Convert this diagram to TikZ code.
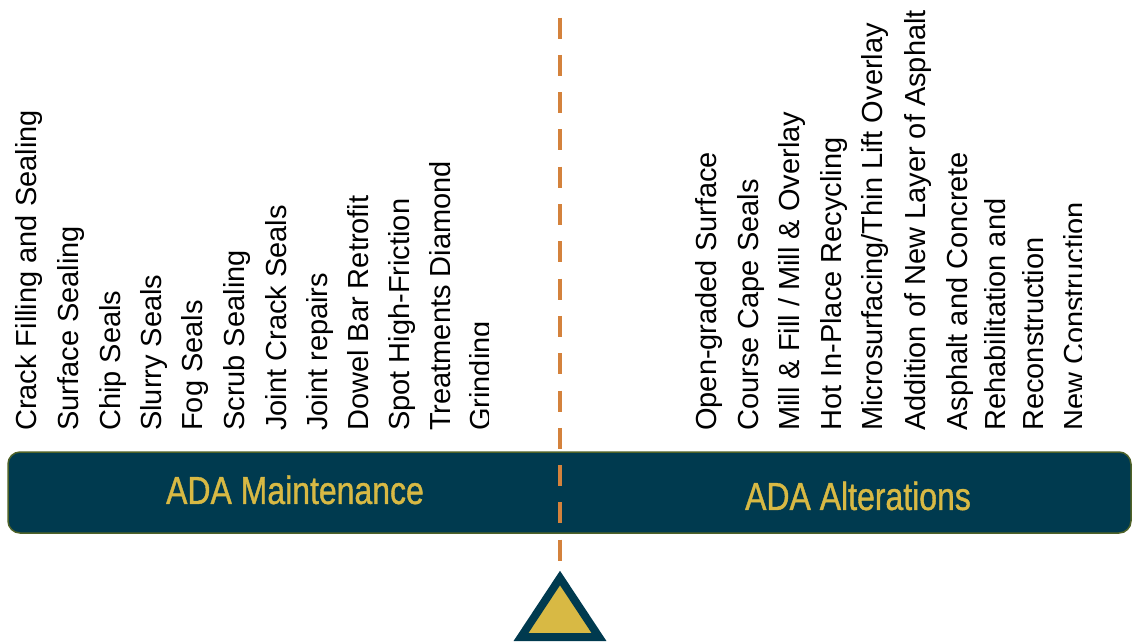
\documentclass[tikz,border=0pt]{standalone}
\usepackage{fontspec}
\setmainfont{Liberation Sans}
\newfontfamily\narrowfont[FakeStretch=0.82,FakeBold=1]{Liberation Sans}
\usepackage{tikz}
\usetikzlibrary{positioning}
\definecolor{barblue}{HTML}{003A4F}
\definecolor{barline}{HTML}{4F6228}
\definecolor{gold}{HTML}{D8B944}
\definecolor{dashorange}{HTML}{D4823C}

\begin{document}
\begin{tikzpicture}[x=1pt,y=-1pt,
    item/.style={rotate=90,anchor=base west,inner sep=0pt,
      font=\fontsize{29}{29}\selectfont},
    title/.style={text=gold,font=\narrowfont\fontsize{39}{39}\selectfont}]
  \useasboundingbox (0,0) rectangle (1132,643);

  % Maintenance items
  \node[item] (m1) at (36,431) {Crack Filling and Sealing};
  \node[item] (m2) at (78,431) {Surface Sealing};
  \node[item] (m3) at (120,431) {Chip Seals};
  \node[item] (m4) at (161,431) {Slurry Seals};
  \node[item] (m5) at (202,431) {Fog Seals};
  \node[item] (m6) at (244,431) {Scrub Sealing};
  \node[item] (m7) at (286,431) {Joint Crack Seals};
  \node[item] (m8) at (327,431) {Joint repairs};
  \node[item] (m9) at (368,431) {Dowel Bar Retrofit};
  \node[item] (m10) at (409,431) {Spot High-Friction};
  \node[item] (m11) at (450,431) {Treatments Diamond};
  \begin{scope}
    \clip (0,0) rectangle (488,643);
    \node[item] (m12) at (490,431) {Grinding};
  \end{scope}

  % Alteration items
  \node[item] (a1) at (716,431) {Open-graded Surface};
  \node[item] (a2) at (758,431) {Course Cape Seals};
  \node[item] (a3) at (799,431) {Mill \& Fill / Mill \& Overlay};
  \node[item] (a4) at (841,431) {Hot In-Place Recycling};
  \node[item] (a5) at (882,431) {Microsurfacing/Thin Lift Overlay};
  \node[item] (a6) at (925,431) {Addition of New Layer of Asphalt};
  \node[item] (a7) at (967,431) {Asphalt and Concrete};
  \node[item] (a8) at (1005,431) {Rehabilitation and};
  \node[item] (a9) at (1043,431) {Reconstruction};
  \begin{scope}
    \clip (0,0) rectangle (1081,643);
    \node[item] (a10) at (1084,431) {New Construction};
  \end{scope}

  % Bar
  \draw[barline,fill=barblue,line width=1.5pt,rounded corners=12pt]
    (8,452) rectangle (1131,533);
  \node[title] (maint) at (295,490) {ADA Maintenance};
  \node[title] (alter) at (858,496) {ADA Alterations};

  % Divider
  \coordinate (top) at (560,17.5);
  \coordinate (tip) at (560,562);
  \draw[dashorange,line width=4pt,dash pattern=on 21pt off 16.3pt] (top) -- (tip);

  % Fulcrum
  \draw[barblue,fill=gold,line width=8pt] (560,578) -- (599,637) -- (521,637) -- cycle;
\end{tikzpicture}
\end{document}
